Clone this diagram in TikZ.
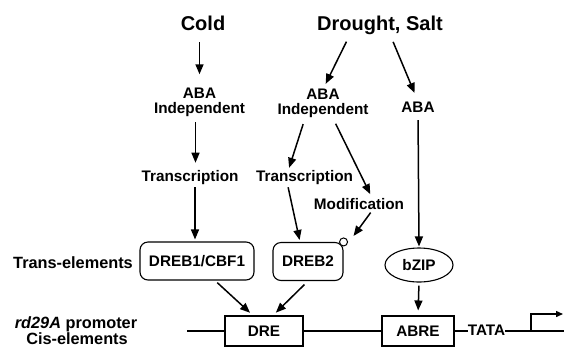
\documentclass[tikz,border=0pt]{standalone}
\usepackage{fontspec}
\setmainfont{Liberation Sans}
\usetikzlibrary{arrows.meta,shapes.geometric}

\begin{document}
\begin{tikzpicture}[x=1pt,y=-1pt,>={Triangle[length=10pt,width=8pt]}]
\tikzstyle{big}=[font=\fontsize{20}{22}\selectfont\bfseries, inner sep=0pt]
\tikzstyle{lbl}=[font=\fontsize{15.3}{15}\selectfont\bfseries, align=center, inner sep=0pt]
\tikzstyle{side}=[font=\fontsize{16.3}{16}\selectfont\bfseries, inner sep=0pt]
\tikzstyle{factor}=[lbl, draw, line width=1.1pt, rounded corners=8pt, minimum height=38pt]
\tikzstyle{element}=[lbl, draw, line width=1.1pt, minimum height=30pt]
\tikzstyle{arr}=[->, line width=1.5pt, shorten <=4pt, shorten >=4pt]
\tikzstyle{dna}=[line width=1.4pt]
\useasboundingbox (0,0) rectangle (564,349);

% signals
\node[big, anchor=base] (cold) at (203,30) {Cold};
\node[big, anchor=base] (drought) at (380,30) {Drought, Salt};

% pathways
\node[lbl] (indep1) at (199.5,102.8) {ABA\\Independent};
\node[lbl] (indep2) at (323,103.8) {ABA\\Independent};
\node[lbl, anchor=base] (aba) at (418,112) {ABA};
\node[lbl, anchor=base] (trans1) at (190,181) {Transcription};
\node[lbl, anchor=base] (trans2) at (304.5,181) {Transcription};
\node[lbl, anchor=base] (modif) at (359,209) {Modification};

% trans-acting factors
\node[side, anchor=base] (transel) at (73,268) {Trans-elements};
\node[factor, minimum width=114pt] (dreb1) at (197,261) {DREB1/CBF1};
\node[factor, minimum width=70pt] (dreb2) at (308,261.5) {DREB2};
\node[circle, draw, fill=white, line width=1pt, minimum size=8pt, inner sep=0pt] (mark) at (dreb2.north east) {};
\node[lbl, draw, ellipse, line width=1.1pt, minimum width=68pt, minimum height=34pt] (bzip) at (419,265) {bZIP};

% promoter
\node[side, anchor=base] (promoter) at (76,328) {\textit{rd29A} promoter};
\node[side, anchor=base] (cis) at (77,344) {Cis-elements};
\node[element, minimum width=78pt] (dre) at (264,331) {DRE};
\node[element, minimum width=72pt] (abre) at (418,331) {ABRE};
\node[lbl, anchor=base] (tata) at (486.5,335.5) {TATA};
\coordinate (promstart) at (187,331);
\coordinate (promend) at (564,331);
\coordinate (tss) at (531,331);
\coordinate (tssend) at (563,314);

\draw[dna] (promstart) -- (dre.west);
\draw[dna] (dre.east) -- (abre.west);
\draw[dna] (abre.east) -- (abre.east -| tata.west);
\draw[dna] (tata.east |- promend) -- (promend);
\draw[dna, ->, >={Triangle[length=7pt,width=6pt]}] (tss) |- (tssend);

% arrows
\draw[arr, shorten <=12pt, shorten >=14pt] (indep1.north |- cold.south) -- (indep1.north);
\draw[arr, shorten <=8pt, shorten >=6pt] ([xshift=-30pt]drought.south) -- (indep2.north);
\draw[arr, shorten <=8pt, shorten >=9pt] ([xshift=10pt]drought.south) -- (aba.north);
\draw[arr, shorten <=5pt, shorten >=7pt] ([xshift=-4pt]indep1.south) -- ([xshift=-4pt]indep1.south |- trans1.north);
\draw[arr, shorten <=6pt, shorten >=2pt] ([xshift=-18pt]indep2.south) -- ([xshift=-16pt]trans2.north);
\draw[arr, shorten <=6pt, shorten >=4pt] ([xshift=10pt]indep2.south) -- ([xshift=13pt]modif.north);
\draw[arr, shorten <=8pt, shorten >=1pt] (aba.south) -- (bzip.north);
\draw[arr, shorten <=3pt, shorten >=2pt] ([xshift=5pt]trans1.south) -- ([xshift=5pt]trans1.south |- dreb1.north);
\draw[arr, shorten <=3pt, shorten >=2pt] ([xshift=-17pt]trans2.south) -- ([xshift=-8pt]dreb2.north);
\draw[arr, shorten <=4pt, shorten >=0pt] ([xshift=14pt]modif.south) -- ([shift={(10pt,6pt)}]dreb2.north east);
\draw[arr, shorten <=3pt, shorten >=5pt] (bzip.south) -- (abre.north);
\draw[arr, shorten <=3pt, shorten >=4pt] ([xshift=18pt]dreb1.south) -- ([xshift=-11pt]dre.north);
\draw[arr, shorten <=5pt, shorten >=4pt] (dreb2.south) -- ([xshift=9pt]dre.north);
\end{tikzpicture}
\end{document}
